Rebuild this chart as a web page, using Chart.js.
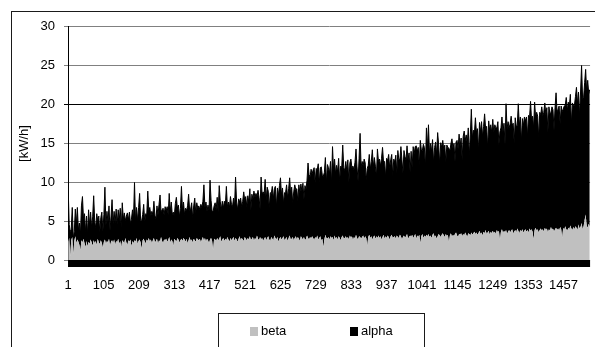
<!DOCTYPE html>
<html>
<head>
<meta charset="utf-8">
<script src="https://cdn.jsdelivr.net/npm/chart.js@4/dist/chart.umd.min.js"></script>
<style>
  html, body { margin: 0; padding: 0; background: #fff; overflow: hidden; }
  #wrap { position: relative; width: 595px; height: 347px; }
  #wrap canvas { position: absolute; left: 0; top: 0; }
  #frame { position: absolute; left: 11px; top: 11px; right: 0; bottom: 0;
           border-left: 1px solid #1a1a1a; border-top: 1px solid #1a1a1a; pointer-events: none; }
</style>
</head>
<body>
<div id="wrap">
  <canvas id="chart" width="595" height="347"></canvas>
  <div id="frame"></div>
</div>
<script>
// Category axis: samples every 3rd category, 1 .. 1534
const firstCategory = 1;
const categoryStep = 3;
const lastCategory = 1535;

const xTickLabels = [1, 105, 209, 313, 417, 521, 625, 729, 833, 937, 1041, 1145, 1249, 1353, 1457];
const yTickLabels = [0, 5, 10, 15, 20, 25, 30];
const yTitle = '[kW/h]';
const seriesNames = ['beta', 'alpha'];

const beta = [
  2.4, 2.9, 0.5, 2.6, 3.0, 0.8, 2.5, 3.1, 2.2, 2.7, 2.4, 2.0, 1.3, 2.6, 2.3, 2.8,
  2.2, 1.7, 2.5, 1.8, 2.4, 2.1, 2.7, 2.3, 1.9, 2.6, 2.2, 2.5, 2.0, 2.8, 2.3, 2.1,
  2.6, 2.2, 1.6, 2.4, 2.7, 2.1, 2.5, 2.3, 2.8, 1.9, 2.4, 2.6, 2.2, 2.7, 2.0, 2.5,
  2.3, 2.8, 2.1, 2.5, 1.7, 2.6, 2.4, 2.2, 2.9, 2.3, 2.0, 2.6, 2.4, 2.7, 1.8, 2.5,
  2.2, 2.6, 2.4, 2.9, 2.1, 2.5, 2.7, 2.3, 1.5, 2.6, 2.8, 2.4, 2.2, 2.7, 2.5, 2.9,
  2.4, 2.7, 2.2, 2.6, 2.9, 2.3, 2.5, 2.8, 2.1, 2.6, 2.4, 3.0, 2.5, 2.2, 2.7, 2.6,
  2.8, 2.4, 2.6, 3.0, 2.3, 2.7, 2.5, 1.9, 2.8, 2.6, 2.4, 2.9, 2.7, 2.3, 2.6, 2.8,
  2.5, 2.9, 2.7, 2.4, 2.8, 2.2, 2.6, 3.0, 2.5, 2.7, 2.3, 2.8, 2.6, 2.4, 2.9, 2.7,
  2.6, 2.8, 2.3, 2.7, 3.0, 2.5, 2.9, 2.4, 2.8, 2.6, 2.2, 2.7, 2.9, 2.5, 1.3, 2.8,
  2.7, 2.5, 2.9, 2.6, 2.8, 3.1, 2.4, 2.7, 2.9, 2.5, 2.8, 2.6, 3.0, 2.7, 2.4, 2.9,
  2.6, 2.8, 3.0, 2.5, 2.9, 2.7, 2.4, 2.8, 3.1, 2.6, 2.9, 2.7, 2.5, 3.0, 2.8, 2.6,
  2.9, 2.7, 3.1, 2.6, 2.8, 3.0, 2.5, 2.9, 2.7, 3.2, 2.8, 2.6, 3.0, 2.7, 2.9, 2.5,
  2.8, 3.0, 2.6, 2.9, 3.1, 2.7, 2.5, 3.0, 2.8, 2.6, 3.2, 2.9, 2.7, 3.0, 2.4, 2.8,
  3.0, 2.7, 2.9, 3.1, 2.6, 2.8, 3.0, 2.5, 2.9, 3.2, 2.7, 2.8, 3.0, 2.6, 2.9, 3.1,
  2.7, 3.0, 2.8, 2.5, 3.1, 2.9, 2.7, 3.0, 2.6, 2.8, 3.2, 2.9, 2.7, 3.0, 2.8, 3.1,
  2.9, 2.6, 3.0, 2.8, 3.2, 2.7, 2.9, 3.1, 2.6, 2.8, 1.7, 2.7, 3.3, 2.9, 2.8, 3.0,
  2.7, 3.1, 2.9, 3.0, 2.6, 3.2, 2.8, 3.0, 2.7, 3.1, 2.9, 2.6, 3.0, 3.2, 2.8, 2.9,
  3.1, 2.8, 3.0, 2.7, 3.2, 2.9, 3.1, 2.6, 3.0, 2.8, 3.3, 2.9, 2.7, 3.1, 3.0, 2.8,
  3.0, 3.2, 2.8, 3.1, 2.9, 1.9, 3.0, 3.3, 2.9, 3.1, 2.7, 3.0, 3.2, 2.8, 3.1, 2.9,
  3.2, 2.9, 3.1, 2.7, 3.0, 3.3, 2.8, 3.1, 2.9, 3.2, 3.0, 2.7, 3.1, 3.3, 2.9, 3.0,
  3.1, 2.8, 3.2, 3.0, 2.9, 3.3, 3.1, 2.7, 3.0, 3.2, 2.9, 3.1, 3.4, 2.8, 3.0, 3.2,
  3.0, 3.3, 2.9, 3.1, 3.4, 2.8, 3.2, 3.0, 3.3, 2.2, 3.1, 3.4, 2.9, 3.2, 3.0, 3.3,
  3.1, 3.4, 3.0, 3.2, 2.9, 3.3, 3.5, 3.0, 3.2, 2.8, 3.1, 3.4, 3.2, 3.0, 3.3, 3.5,
  3.2, 3.0, 3.4, 3.1, 3.3, 2.3, 3.2, 3.5, 3.0, 3.3, 3.1, 3.4, 3.6, 3.2, 3.0, 3.4,
  3.3, 3.5, 3.1, 3.4, 3.2, 3.6, 3.3, 3.0, 3.5, 3.4, 3.2, 3.6, 3.3, 3.5, 3.7, 3.4,
  3.6, 3.3, 3.5, 3.8, 3.4, 3.6, 3.2, 3.7, 3.5, 3.9, 3.4, 3.6, 3.8, 3.3, 3.7, 3.5,
  3.8, 3.5, 3.7, 3.4, 3.9, 3.6, 3.8, 2.6, 3.7, 4.0, 3.5, 3.8, 3.6, 3.9, 3.4, 3.7,
  3.9, 3.6, 3.8, 4.0, 3.5, 3.7, 3.9, 3.6, 4.1, 3.8, 3.5, 3.9, 3.7, 4.0, 3.6, 3.8,
  4.0, 3.7, 3.9, 3.6, 4.1, 3.8, 4.0, 3.7, 2.7, 3.9, 4.2, 3.8, 4.0, 3.6, 3.9, 4.1,
  3.8, 4.0, 3.7, 4.2, 3.9, 4.1, 3.6, 4.0, 3.8, 4.3, 3.9, 4.1, 3.7, 4.0, 4.2, 3.9,
  4.1, 3.8, 4.3, 4.0, 2.9, 4.2, 3.9, 4.4, 4.0, 3.8, 4.2, 4.0, 4.5, 4.1, 3.9, 4.3,
  4.0, 4.4, 4.2, 3.9, 4.6, 4.1, 4.3, 4.8, 4.0, 4.4, 5.2, 5.9, 4.5, 4.2, 4.7, 4.3
];

const alpha = [
  6.9, 1.7, 3.2, 1.4, 3.8, 2.1, 1.2, 3.5, 2.4, 4.1, 1.5, 2.8, 2.0, 4.4, 5.9, 2.6,
  3.8, 2.0, 3.2, 1.6, 4.1, 2.4, 3.5, 1.9, 3.7, 5.7, 2.8, 1.7, 4.0, 2.3, 3.4, 1.5,
  2.9, 4.0, 2.1, 3.5, 6.7, 2.4, 3.8, 2.6, 4.2, 1.9, 3.3, 5.2, 2.5, 3.6, 2.8, 4.1,
  2.3, 3.7, 3.0, 4.2, 2.5, 4.8, 2.9, 3.9, 2.2, 3.4, 4.1, 2.6, 3.8, 2.0, 3.5, 4.0,
  3.1, 7.4, 2.6, 3.9, 3.0, 4.3, 5.9, 2.8, 3.6, 3.3, 4.4, 2.5, 3.8, 3.2, 6.4, 3.5,
  4.4, 3.0, 4.1, 3.3, 4.7, 3.5, 2.8, 4.2, 3.7, 4.6, 6.0, 3.2, 4.0, 4.5, 3.1, 4.3,
  3.6, 4.5, 3.2, 5.6, 3.9, 4.8, 3.4, 4.3, 2.9, 4.7, 5.7, 3.8, 4.4, 3.3, 4.1, 6.7,
  3.9, 4.6, 3.2, 4.3, 3.6, 4.8, 5.9, 3.4, 4.1, 4.7, 3.1, 4.2, 5.4, 3.7, 4.5, 4.0,
  4.4, 3.7, 4.9, 4.1, 4.6, 7.2, 3.9, 5.1, 3.5, 4.5, 4.2, 7.6, 4.8, 3.8, 5.0, 4.2,
  4.7, 4.0, 5.2, 3.6, 6.8, 4.5, 4.1, 4.9, 3.8, 5.1, 4.3, 6.9, 3.9, 4.8, 4.4, 5.3,
  4.6, 4.1, 5.0, 4.4, 7.8, 4.8, 4.1, 5.1, 4.4, 5.4, 4.0, 4.9, 6.3, 4.7, 5.4, 4.3,
  5.4, 4.8, 6.1, 3.8, 5.7, 4.9, 6.4, 5.2, 5.9, 5.0, 6.2, 5.5, 3.6, 8.0, 5.6, 6.3,
  5.7, 7.4, 5.2, 6.5, 5.8, 4.0, 6.2, 5.6, 6.7, 5.3, 6.0, 6.6, 4.1, 6.3, 5.9, 6.8,
  7.6, 5.7, 6.4, 4.2, 6.1, 5.9, 6.7, 5.5, 6.3, 7.4, 5.8, 6.6, 4.3, 6.2, 6.8, 6.0,
  6.5, 4.6, 6.9, 6.2, 6.7, 6.0, 7.2, 4.9, 7.0, 6.3, 7.1, 9.6, 8.3, 7.7, 8.9, 8.0,
  8.7, 9.3, 6.9, 9.0, 8.4, 9.7, 7.0, 8.8, 9.4, 8.1, 9.1, 8.6, 9.9, 7.1, 9.5, 8.9,
  8.5, 9.6, 7.0, 11.6, 9.0, 9.8, 8.3, 9.2, 8.7, 10.0, 7.2, 9.5, 8.9, 11.6, 9.1, 8.6,
  9.6, 8.7, 9.9, 7.3, 9.3, 10.1, 8.8, 9.5, 8.6, 9.8, 11.0, 9.1, 7.5, 10.0, 13.3, 9.2,
  9.7, 8.9, 10.2, 9.4, 7.4, 9.9, 9.2, 10.3, 8.8, 9.6, 11.5, 9.0, 10.0, 9.3, 7.6, 11.4,
  9.5, 10.1, 9.0, 10.4, 11.5, 9.3, 9.9, 7.6, 10.2, 9.6, 10.6, 9.2, 9.8, 10.3, 7.9, 10.0,
  9.5, 10.7, 8.0, 11.1, 10.0, 9.7, 11.5, 10.2, 8.2, 10.9, 10.4, 9.8, 11.3, 10.1, 10.8, 8.1,
  11.0, 8.6, 11.7, 10.6, 11.2, 11.9, 10.8, 11.5, 8.8, 13.2, 11.1, 10.7, 12.0, 11.3, 8.9, 13.7,
  11.3, 14.0, 10.7, 11.8, 11.1, 12.2, 9.0, 11.5, 12.0, 10.8, 13.3, 11.4, 9.1, 12.1, 11.2, 11.9,
  11.0, 11.8, 9.2, 11.7, 11.2, 12.1, 10.8, 11.5, 12.6, 11.1, 11.9, 9.3, 11.6, 12.2, 11.3, 12.8,
  11.4, 12.2, 9.8, 12.5, 13.4, 11.8, 12.8, 12.0, 13.5, 10.0, 12.9, 15.8, 12.4, 13.2, 12.6, 14.9,
  12.8, 13.6, 10.6, 13.9, 13.1, 14.2, 12.7, 13.5, 15.3, 13.0, 13.8, 10.8, 14.1, 13.3, 13.7, 12.9,
  14.3, 12.9, 13.7, 13.6, 13.1, 14.2, 11.0, 13.9, 13.3, 14.4, 13.0, 13.8, 11.2, 16.2, 13.5, 14.1,
  13.1, 13.9, 14.7, 13.3, 14.1, 11.3, 14.4, 13.6, 13.2, 16.3, 13.8, 14.5, 11.5, 14.2, 13.7, 14.6,
  13.9, 14.7, 12.0, 15.0, 14.2, 16.6, 14.0, 14.8, 14.3, 16.4, 14.1, 15.2, 14.5, 12.1, 15.1, 14.6,
  15.9, 14.6, 15.3, 16.0, 14.8, 15.5, 12.8, 15.7, 15.0, 14.7, 15.8, 15.2, 13.0, 15.6, 17.3, 15.1,
  15.3, 16.0, 13.2, 15.8, 16.2, 15.2, 15.9, 15.5, 16.9, 15.4, 16.1, 15.7, 16.8, 13.4, 16.3, 15.6,
  15.9, 16.6, 18.0, 16.2, 17.0, 14.5, 17.3, 20.2, 16.8, 16.5, 17.6, 18.6, 17.1, 18.9, 16.7, 17.6
];

const categories = beta.map((_, i) => firstCategory + i * categoryStep);
const toPoints = values => values.map((v, i) => ({ x: categories[i], y: v }));

const FONT_FAMILY = "'Liberation Sans', Arial, sans-serif";
const baseFont = { family: FONT_FAMILY, size: 13 };

// Band of category tick marks under the axis, boxed legend
const sheetDecor = {
  id: 'sheetDecor',
  afterDraw(chart) {
    const { ctx, chartArea } = chart;
    ctx.save();
    ctx.fillStyle = '#000';
    ctx.fillRect(chartArea.left, Math.floor(chartArea.bottom), chartArea.right - chartArea.left, 7);

    ctx.strokeStyle = '#1a1a1a';
    ctx.lineWidth = 1;
    ctx.strokeRect(218.5, 313.5, 206, 60);
    ctx.font = '13px ' + FONT_FAMILY;
    ctx.textBaseline = 'middle';
    ctx.textAlign = 'left';
    const itemX = [250, 350];
    chart.data.datasets.forEach((ds, k) => {
      ctx.fillStyle = ds.backgroundColor;
      ctx.fillRect(itemX[k], 327, 8, 9);
      ctx.fillStyle = '#000';
      ctx.fillText(ds.label, itemX[k] + 11, 331.5);
    });
    ctx.restore();
  }
};

new Chart(document.getElementById('chart'), {
  type: 'line',
  data: {
    datasets: [
      {
        label: seriesNames[0],
        data: toPoints(beta),
        backgroundColor: '#c0c0c0',
        borderColor: '#c0c0c0',
        borderWidth: 0,
        fill: 'origin',
        pointRadius: 0,
        tension: 0
      },
      {
        label: seriesNames[1],
        data: toPoints(alpha),
        backgroundColor: '#000000',
        borderColor: '#000000',
        borderWidth: 1,
        fill: '-1',
        pointRadius: 0,
        tension: 0
      }
    ]
  },
  options: {
    responsive: false,
    animation: false,
    events: [],
    devicePixelRatio: 1,
    layout: { padding: { top: 26.5, left: 0, right: 0, bottom: 0 } },
    plugins: {
      legend: { display: false },
      tooltip: { enabled: false }
    },
    scales: {
      x: {
        type: 'linear',
        min: firstCategory - 0.5,
        max: lastCategory,
        afterBuildTicks: s => { s.ticks = xTickLabels.map(v => ({ value: v })); },
        afterFit: s => { s.height = 86.5; },
        grid: { display: false, drawTicks: false },
        border: { display: false },
        ticks: {
          autoSkip: false,
          maxRotation: 0,
          padding: 17,
          color: '#000',
          font: baseFont,
          callback: v => String(v)
        }
      },
      y: {
        stacked: true,
        min: 0,
        max: 30,
        afterBuildTicks: s => { s.ticks = yTickLabels.map(v => ({ value: v })); },
        afterFit: s => { s.width = 68; },
        grid: {
          color: c => (c.tick && c.tick.value === 20 ? '#000' : '#808080'),
          tickLength: 4
        },
        border: { display: true, color: '#000' },
        ticks: { padding: 9, color: '#000', font: baseFont },
        title: {
          display: true,
          text: yTitle,
          color: '#000',
          font: baseFont,
          padding: { top: 17, bottom: 0 }
        }
      }
    }
  },
  plugins: [sheetDecor]
});
</script>
</body>
</html>
